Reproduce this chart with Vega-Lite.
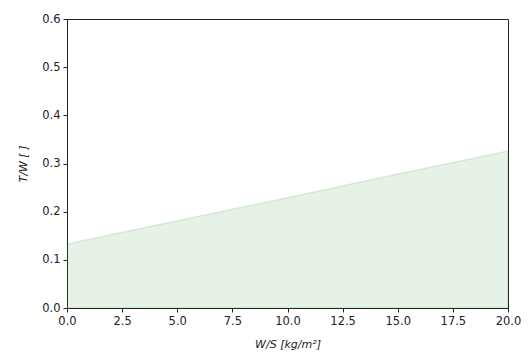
{
  "$schema": "https://vega.github.io/schema/vega-lite/v6.json",
  "width": 441,
  "height": 289,
  "autosize": {"type": "none"},
  "padding": {"left": 67, "top": 19, "right": 20, "bottom": 45},
  "background": "white",
  "config": {
    "view": {"stroke": "#222", "strokeWidth": 1},
    "axis": {
      "domain": true, "domainColor": "#222", "domainWidth": 1, "labelFlush": false,
      "grid": false, "ticks": true, "tickColor": "#222", "tickSize": 4, "tickWidth": 1,
      "labelFont": "DejaVu Sans", "labelFontSize": 11.5, "labelColor": "#222", "labelPadding": 3,
      "titleFont": "DejaVu Sans", "titleFontSize": 11, "titleFontWeight": "normal", "titleColor": "#222", "titleFontStyle": "italic"
    }
  },
  "data": {"values": [
    {"ws": 0, "tw": 0.133},
    {"ws": 5, "tw": 0.181},
    {"ws": 10, "tw": 0.229},
    {"ws": 15, "tw": 0.278},
    {"ws": 20, "tw": 0.326}
  ]},
  "mark": {"type": "area", "fill": "green", "fillOpacity": 0.1, "stroke": "green", "strokeOpacity": 0.12, "strokeWidth": 1.5, "clip": true},
  "encoding": {
    "x": {"field": "ws", "type": "quantitative", "scale": {"domain": [0, 20], "nice": false},
      "axis": {"values": [0, 2.5, 5, 7.5, 10, 12.5, 15, 17.5, 20], "format": ".1f", "title": "W/S [kg/m²]", "titlePadding": 12}},
    "y": {"field": "tw", "type": "quantitative", "scale": {"domain": [0, 0.6], "nice": false},
      "axis": {"values": [0, 0.1, 0.2, 0.3, 0.4, 0.5, 0.6], "format": ".1f", "title": "T/W [ ]", "titlePadding": 13}}
  }
}
